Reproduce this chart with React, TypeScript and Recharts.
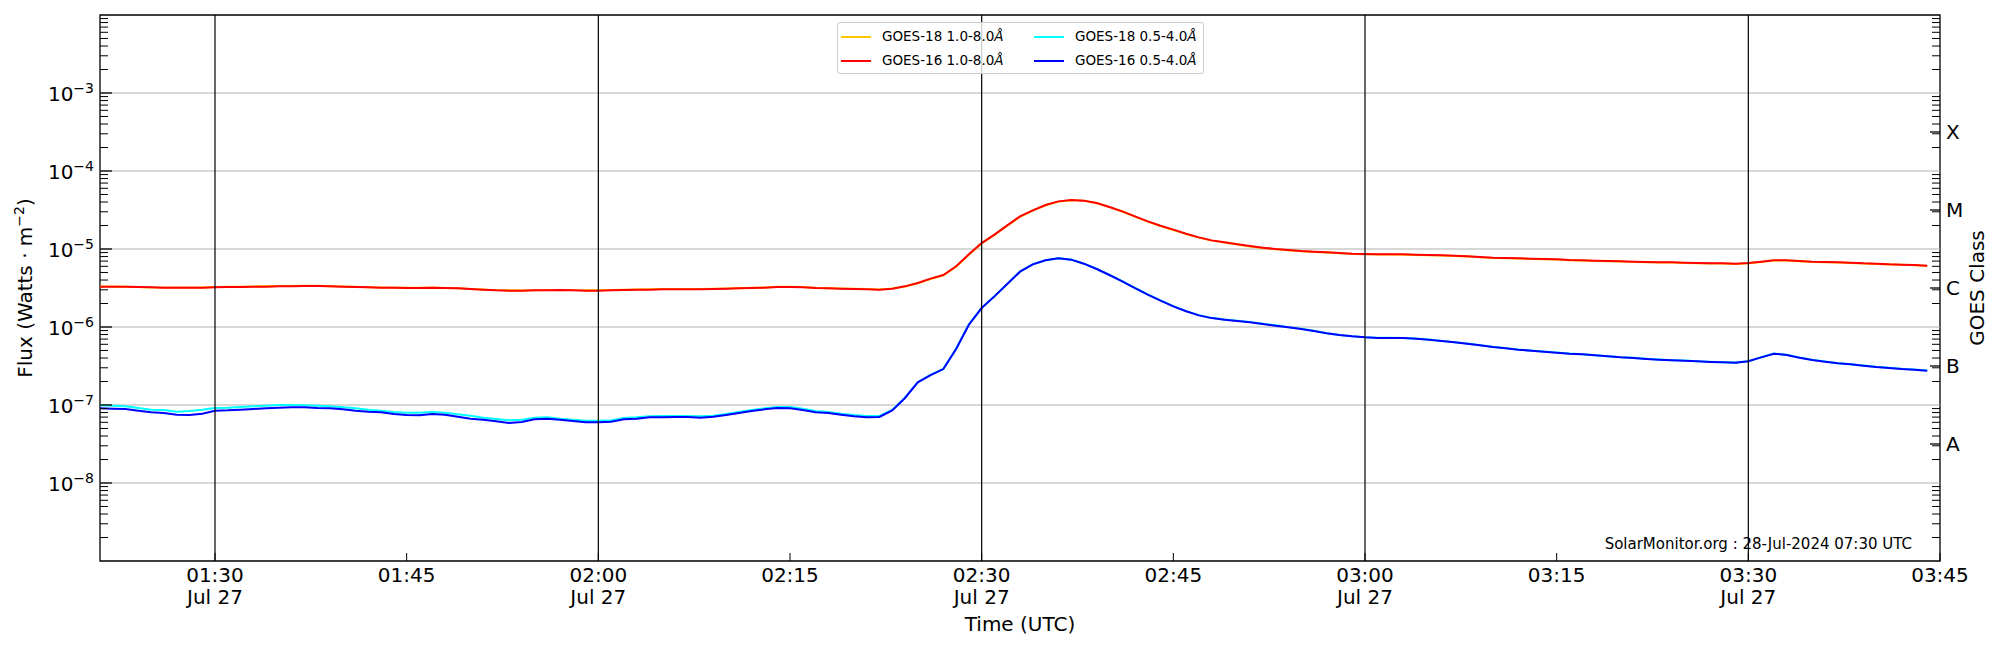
import React from 'react';
import { LineChart, Line, XAxis, YAxis, ReferenceLine, ReferenceArea, Legend } from 'recharts';

// 1-minute GOES XRS flux, starting 01:21 UTC on 27 Jul 2024 (minutes after midnight)
const START_MINUTE = 81;

const goes16Long = [
  3.29e-6, 3.29e-6, 3.29e-6, 3.26e-6, 3.23e-6, 3.19e-6, 3.19e-6, 3.19e-6, 3.19e-6, 3.23e-6,
  3.26e-6, 3.26e-6, 3.29e-6, 3.29e-6, 3.32e-6, 3.32e-6, 3.36e-6, 3.36e-6, 3.32e-6, 3.29e-6,
  3.26e-6, 3.23e-6, 3.19e-6, 3.19e-6, 3.16e-6, 3.16e-6, 3.19e-6, 3.16e-6, 3.13e-6, 3.07e-6,
  3.01e-6, 2.95e-6, 2.92e-6, 2.92e-6, 2.95e-6, 2.95e-6, 2.98e-6, 2.95e-6, 2.92e-6, 2.92e-6,
  2.95e-6, 2.98e-6, 3.01e-6, 3.01e-6, 3.04e-6, 3.04e-6, 3.04e-6, 3.04e-6, 3.07e-6, 3.10e-6,
  3.13e-6, 3.16e-6, 3.19e-6, 3.26e-6, 3.26e-6, 3.23e-6, 3.16e-6, 3.13e-6, 3.10e-6, 3.07e-6,
  3.04e-6, 3.01e-6, 3.10e-6, 3.32e-6, 3.66e-6, 4.17e-6, 4.64e-6, 6.00e-6, 8.54e-6, 1.19e-5,
  1.53e-5, 2.01e-5, 2.62e-5, 3.13e-5, 3.67e-5, 4.08e-5, 4.25e-5, 4.17e-5, 3.89e-5, 3.46e-5,
  3.04e-5, 2.62e-5, 2.26e-5, 1.99e-5, 1.77e-5, 1.57e-5, 1.41e-5, 1.29e-5, 1.22e-5, 1.15e-5,
  1.09e-5, 1.04e-5, 1.00e-5, 9.71e-6, 9.43e-6, 9.24e-6, 9.06e-6, 8.89e-6, 8.71e-6, 8.63e-6,
  8.54e-6, 8.54e-6, 8.54e-6, 8.46e-6, 8.38e-6, 8.29e-6, 8.21e-6, 8.05e-6, 7.89e-6, 7.74e-6,
  7.67e-6, 7.59e-6, 7.52e-6, 7.44e-6, 7.37e-6, 7.23e-6, 7.16e-6, 7.09e-6, 7.02e-6, 6.95e-6,
  6.88e-6, 6.81e-6, 6.75e-6, 6.75e-6, 6.68e-6, 6.61e-6, 6.55e-6, 6.55e-6, 6.48e-6, 6.61e-6,
  6.88e-6, 7.16e-6, 7.16e-6, 7.02e-6, 6.88e-6, 6.81e-6, 6.75e-6, 6.68e-6, 6.55e-6, 6.48e-6,
  6.36e-6, 6.30e-6, 6.24e-6, 6.11e-6,
];

const goes18Long = [
  3.31e-6, 3.30e-6, 3.28e-6, 3.25e-6, 3.22e-6, 3.20e-6, 3.20e-6, 3.20e-6, 3.21e-6, 3.25e-6,
  3.28e-6, 3.29e-6, 3.31e-6, 3.32e-6, 3.35e-6, 3.36e-6, 3.39e-6, 3.38e-6, 3.34e-6, 3.30e-6,
  3.27e-6, 3.24e-6, 3.20e-6, 3.20e-6, 3.18e-6, 3.18e-6, 3.20e-6, 3.17e-6, 3.13e-6, 3.08e-6,
  3.02e-6, 2.97e-6, 2.95e-6, 2.94e-6, 2.96e-6, 2.97e-6, 2.99e-6, 2.97e-6, 2.95e-6, 2.95e-6,
  2.98e-6, 3.01e-6, 3.03e-6, 3.04e-6, 3.06e-6, 3.06e-6, 3.06e-6, 3.06e-6, 3.09e-6, 3.12e-6,
  3.15e-6, 3.18e-6, 3.21e-6, 3.27e-6, 3.28e-6, 3.25e-6, 3.18e-6, 3.15e-6, 3.12e-6, 3.09e-6,
  3.06e-6, 3.03e-6, 3.11e-6, 3.31e-6, 3.63e-6, 4.12e-6, 4.60e-6, 5.92e-6, 8.45e-6, 1.18e-5,
  1.51e-5, 1.99e-5, 2.59e-5, 3.10e-5, 3.64e-5, 4.05e-5, 4.22e-5, 4.15e-5, 3.87e-5, 3.44e-5,
  3.02e-5, 2.60e-5, 2.24e-5, 1.97e-5, 1.75e-5, 1.55e-5, 1.40e-5, 1.28e-5, 1.21e-5, 1.14e-5,
  1.08e-5, 1.03e-5, 9.92e-6, 9.63e-6, 9.36e-6, 9.16e-6, 8.99e-6, 8.82e-6, 8.65e-6, 8.56e-6,
  8.48e-6, 8.48e-6, 8.47e-6, 8.40e-6, 8.32e-6, 8.23e-6, 8.15e-6, 7.99e-6, 7.83e-6, 7.68e-6,
  7.61e-6, 7.53e-6, 7.46e-6, 7.38e-6, 7.31e-6, 7.18e-6, 7.11e-6, 7.04e-6, 6.97e-6, 6.90e-6,
  6.83e-6, 6.76e-6, 6.70e-6, 6.70e-6, 6.63e-6, 6.56e-6, 6.50e-6, 6.50e-6, 6.43e-6, 6.56e-6,
  6.83e-6, 7.11e-6, 7.11e-6, 6.97e-6, 6.83e-6, 6.76e-6, 6.70e-6, 6.63e-6, 6.50e-6, 6.43e-6,
  6.32e-6, 6.26e-6, 6.20e-6, 6.07e-6,
];

const goes16Short = [
  9.06e-8, 8.97e-8, 8.89e-8, 8.46e-8, 8.05e-8, 7.89e-8, 7.52e-8, 7.44e-8, 7.74e-8, 8.46e-8,
  8.54e-8, 8.71e-8, 8.89e-8, 9.06e-8, 9.24e-8, 9.33e-8, 9.33e-8, 9.15e-8, 9.06e-8, 8.80e-8,
  8.46e-8, 8.21e-8, 8.05e-8, 7.67e-8, 7.44e-8, 7.37e-8, 7.67e-8, 7.52e-8, 7.09e-8, 6.68e-8,
  6.48e-8, 6.17e-8, 5.88e-8, 6.05e-8, 6.55e-8, 6.68e-8, 6.48e-8, 6.24e-8, 5.99e-8, 5.99e-8,
  6.11e-8, 6.55e-8, 6.68e-8, 6.95e-8, 6.95e-8, 7.02e-8, 7.02e-8, 6.88e-8, 7.09e-8, 7.44e-8,
  7.89e-8, 8.38e-8, 8.80e-8, 9.15e-8, 9.06e-8, 8.63e-8, 8.05e-8, 7.89e-8, 7.52e-8, 7.16e-8,
  6.95e-8, 7.02e-8, 8.54e-8, 1.23e-7, 1.95e-7, 2.42e-7, 2.89e-7, 5.22e-7, 1.07e-6, 1.75e-6,
  2.47e-6, 3.56e-6, 5.12e-6, 6.36e-6, 7.16e-6, 7.59e-6, 7.30e-6, 6.48e-6, 5.54e-6, 4.64e-6,
  3.85e-6, 3.16e-6, 2.60e-6, 2.18e-6, 1.84e-6, 1.59e-6, 1.41e-6, 1.30e-6, 1.24e-6, 1.19e-6,
  1.15e-6, 1.09e-6, 1.04e-6, 9.90e-7, 9.43e-7, 8.89e-7, 8.30e-7, 7.89e-7, 7.59e-7, 7.37e-7,
  7.23e-7, 7.23e-7, 7.23e-7, 7.09e-7, 6.88e-7, 6.61e-7, 6.36e-7, 6.11e-7, 5.82e-7, 5.54e-7,
  5.33e-7, 5.12e-7, 4.97e-7, 4.83e-7, 4.69e-7, 4.55e-7, 4.46e-7, 4.33e-7, 4.21e-7, 4.08e-7,
  4.00e-7, 3.89e-7, 3.81e-7, 3.74e-7, 3.70e-7, 3.63e-7, 3.56e-7, 3.52e-7, 3.49e-7, 3.63e-7,
  4.08e-7, 4.55e-7, 4.38e-7, 4.04e-7, 3.78e-7, 3.59e-7, 3.42e-7, 3.32e-7, 3.19e-7, 3.07e-7,
  2.98e-7, 2.89e-7, 2.84e-7, 2.75e-7,
];

const goes18Short = [
  9.90e-8, 9.80e-8, 9.61e-8, 9.15e-8, 8.71e-8, 8.63e-8, 8.21e-8, 8.38e-8, 8.71e-8, 9.15e-8,
  9.24e-8, 9.43e-8, 9.61e-8, 9.80e-8, 1.00e-7, 1.00e-7, 9.90e-8, 9.80e-8, 9.61e-8, 9.33e-8,
  9.06e-8, 8.71e-8, 8.46e-8, 8.13e-8, 7.97e-8, 7.97e-8, 8.13e-8, 7.97e-8, 7.59e-8, 7.30e-8,
  6.88e-8, 6.61e-8, 6.36e-8, 6.48e-8, 6.88e-8, 6.95e-8, 6.68e-8, 6.48e-8, 6.30e-8, 6.30e-8,
  6.36e-8, 6.81e-8, 6.95e-8, 7.16e-8, 7.23e-8, 7.23e-8, 7.23e-8, 7.16e-8, 7.30e-8, 7.67e-8,
  8.13e-8, 8.63e-8, 9.06e-8, 9.43e-8, 9.43e-8, 8.97e-8, 8.38e-8, 8.13e-8, 7.74e-8, 7.44e-8,
  7.23e-8, 7.23e-8, 8.63e-8, 1.24e-7, 1.96e-7, 2.43e-7, 2.90e-7, 5.25e-7, 1.08e-6, 1.76e-6,
  2.48e-6, 3.57e-6, 5.14e-6, 6.38e-6, 7.18e-6, 7.61e-6, 7.32e-6, 6.50e-6, 5.56e-6, 4.66e-6,
  3.86e-6, 3.17e-6, 2.61e-6, 2.19e-6, 1.85e-6, 1.60e-6, 1.42e-6, 1.31e-6, 1.25e-6, 1.20e-6,
  1.16e-6, 1.10e-6, 1.05e-6, 9.95e-7, 9.47e-7, 8.93e-7, 8.34e-7, 7.92e-7, 7.62e-7, 7.40e-7,
  7.26e-7, 7.26e-7, 7.25e-7, 7.12e-7, 6.91e-7, 6.64e-7, 6.39e-7, 6.14e-7, 5.85e-7, 5.57e-7,
  5.36e-7, 5.14e-7, 4.99e-7, 4.85e-7, 4.71e-7, 4.57e-7, 4.48e-7, 4.35e-7, 4.23e-7, 4.10e-7,
  4.02e-7, 3.91e-7, 3.83e-7, 3.76e-7, 3.72e-7, 3.65e-7, 3.58e-7, 3.54e-7, 3.51e-7, 3.65e-7,
  4.10e-7, 4.57e-7, 4.40e-7, 4.06e-7, 3.80e-7, 3.61e-7, 3.44e-7, 3.34e-7, 3.21e-7, 3.09e-7,
  3.00e-7, 2.91e-7, 2.86e-7, 2.77e-7,
];

// axes
const X_TICKS = [90, 105, 120, 135, 150, 165, 180, 195, 210, 225];
const X_TICK_LABELS = ['01:30', '01:45', '02:00', '02:15', '02:30', '02:45', '03:00', '03:15', '03:30', '03:45'];
const X_TICK_DATES = ['Jul 27', '', 'Jul 27', '', 'Jul 27', '', 'Jul 27', '', 'Jul 27', ''];
const HALF_HOURS = [90, 120, 150, 180, 210];

const Y_MAJOR = [1e-8, 1e-7, 1e-6, 1e-5, 1e-4, 1e-3];
const Y_EXPONENTS = ['−8', '−7', '−6', '−5', '−4', '−3'];
const CLASS_TICKS = [3.162e-8, 3.162e-7, 3.162e-6, 3.162e-5, 3.162e-4];
const CLASS_LABELS = ['A', 'B', 'C', 'M', 'X'];

const Y_MINOR: number[] = [];
for (let e = -9; e <= -3; e++) {
  for (let m = 2; m <= 9; m++) Y_MINOR.push(m * Math.pow(10, e));
}

const SERIES = [
  { key: 'g18l', name: 'GOES-18 1.0-8.0', color: '#ffc400', values: goes18Long },
  { key: 'g16l', name: 'GOES-16 1.0-8.0', color: '#ff0000', values: goes16Long },
  { key: 'g18s', name: 'GOES-18 0.5-4.0', color: '#00ffff', values: goes18Short },
  { key: 'g16s', name: 'GOES-16 0.5-4.0', color: '#0000ff', values: goes16Short },
];

const data = goes16Long.map((_, i) => {
  const row: Record<string, number> = { t: START_MINUTE + i };
  SERIES.forEach(s => { row[s.key] = s.values[i]; });
  return row;
});

const FONT = '"DejaVu Sans", sans-serif';

const LeftTick = ({ x, y, payload }: any) => {
  const i = Y_MAJOR.indexOf(payload.value);
  if (i < 0) return <line x1={x} x2={x + 8} y1={y} y2={y} stroke="#000" strokeWidth={1} />;
  return (
    <g>
      <line x1={x} x2={x + 12} y1={y} y2={y} stroke="#000" strokeWidth={1.3} />
      <text x={x - 6} y={y + 8} textAnchor="end" fontSize={20} fontFamily={FONT} fill="#000">
        10<tspan dy={-8.5} fontSize={14}>{Y_EXPONENTS[i]}</tspan>
      </text>
    </g>
  );
};

const RightTick = ({ x, y, payload }: any) => {
  const i = CLASS_TICKS.indexOf(payload.value);
  if (i < 0) return <line x1={x} x2={x - 8} y1={y} y2={y} stroke="#000" strokeWidth={1} />;
  return (
    <g>
      <line x1={x} x2={x - 10} y1={y} y2={y} stroke="#000" strokeWidth={1.3} />
      <text x={x + 6} y={y + 7} textAnchor="start" fontSize={20} fontFamily={FONT} fill="#000">
        {CLASS_LABELS[i]}
      </text>
    </g>
  );
};

const TimeTick = ({ x, y, payload }: any) => {
  const i = X_TICKS.indexOf(payload.value);
  return (
    <g>
      <line x1={x} x2={x} y1={y} y2={y - 8} stroke="#000" strokeWidth={1} />
      <text x={x} y={y + 21} textAnchor="middle" fontSize={20} fontFamily={FONT} fill="#000">
        {X_TICK_LABELS[i]}
      </text>
      {X_TICK_DATES[i] && (
        <text x={x} y={y + 43} textAnchor="middle" fontSize={20} fontFamily={FONT} fill="#000">
          {X_TICK_DATES[i]}
        </text>
      )}
    </g>
  );
};

const FluxLabel = ({ viewBox }: any) => {
  const cx = viewBox.x + 32;
  const cy = viewBox.y + viewBox.height / 2;
  return (
    <text x={cx} y={cy} transform={`rotate(-90 ${cx} ${cy})`} textAnchor="middle" fontSize={20} fontFamily={FONT} fill="#000">
      Flux (Watts · m<tspan dy={-8} fontSize={14}>−2</tspan><tspan dy={8}>)</tspan>
    </text>
  );
};

const ClassLabel = ({ viewBox }: any) => {
  const cx = viewBox.x + 44;
  const cy = viewBox.y + viewBox.height / 2;
  return (
    <text x={cx} y={cy} transform={`rotate(-90 ${cx} ${cy})`} textAnchor="middle" fontSize={20} fontFamily={FONT} fill="#000">
      GOES Class
    </text>
  );
};

const TimeLabel = ({ viewBox }: any) => (
  <text x={viewBox.x + viewBox.width / 2} y={viewBox.y + 70} textAnchor="middle" fontSize={20} fontFamily={FONT} fill="#000">
    Time (UTC)
  </text>
);

const Watermark = ({ viewBox }: any) => (
  <text x={viewBox.x + viewBox.width - 28} y={viewBox.y + viewBox.height - 12} textAnchor="end" fontSize={15} fontFamily={FONT} fill="#000">
    SolarMonitor.org : 28-Jul-2024 07:30 UTC
  </text>
);

const renderLegend = () => (
  <div
    style={{
      position: 'relative',
      width: 367,
      height: 52,
      boxSizing: 'border-box',
      border: '1px solid #cccccc',
      borderRadius: 3,
      background: 'rgba(255,255,255,0.8)',
      fontFamily: FONT,
      fontSize: 13.5,
      color: '#000',
    }}
  >
    {SERIES.map((s, i) => {
      const left = i < 2 ? 3 : 196;
      const top = i % 2 === 0 ? 14 : 38;
      return (
        <React.Fragment key={s.key}>
          <div style={{ position: 'absolute', left, top: top - 1, width: 30, height: 1.5, background: s.color }} />
          <div style={{ position: 'absolute', left: left + 41, top: top - 9, lineHeight: '17px', whiteSpace: 'nowrap' }}>
            {s.name}<i>Å</i>
          </div>
        </React.Fragment>
      );
    })}
  </div>
);

export default function App() {
  return (
    <div style={{ position: 'absolute', left: 0, top: 0, width: 2000, height: 650, background: '#fff' }}>
      <LineChart width={2000} height={650} data={data} margin={{ top: 15, right: 0, bottom: 0, left: 0 }}>
        <XAxis
          dataKey="t"
          type="number"
          domain={[81, 225]}
          allowDataOverflow
          ticks={X_TICKS}
          interval={0}
          tick={<TimeTick />}
          tickSize={0}
          tickMargin={0}
          axisLine={false}
          height={89}
          label={<TimeLabel />}
        />
        <YAxis
          yAxisId="left"
          scale="log"
          domain={[1e-9, 1e-2]}
          allowDataOverflow
          ticks={[...Y_MINOR, ...Y_MAJOR]}
          interval={0}
          tick={<LeftTick />}
          tickSize={0}
          tickMargin={0}
          axisLine={false}
          width={100}
          label={<FluxLabel />}
        />
        <YAxis
          yAxisId="right"
          orientation="right"
          scale="log"
          domain={[1e-9, 1e-2]}
          allowDataOverflow
          ticks={[...Y_MINOR, ...CLASS_TICKS]}
          interval={0}
          tick={<RightTick />}
          tickSize={0}
          tickMargin={0}
          axisLine={false}
          width={60}
          label={<ClassLabel />}
        />
        {Y_MAJOR.map(v => (
          <ReferenceLine key={v} yAxisId="left" y={v} stroke="#b0b0b0" strokeWidth={1.2} />
        ))}
        {SERIES.map(s => (
          <Line
            key={s.key}
            yAxisId="left"
            dataKey={s.key}
            name={s.name}
            type="linear"
            stroke={s.color}
            strokeWidth={2}
            dot={false}
            activeDot={false}
            isAnimationActive={false}
          />
        ))}
        {HALF_HOURS.map(t => (
          <ReferenceLine key={t} yAxisId="left" x={t} stroke="#000" strokeWidth={1.2} />
        ))}
        <ReferenceArea
          yAxisId="left"
          x1={81}
          x2={225}
          y1={1e-9}
          y2={1e-2}
          fill="none"
          fillOpacity={0}
          stroke="#000"
          strokeWidth={1.3}
          label={<Watermark />}
        />
        <Legend
          layout="horizontal"
          verticalAlign="middle"
          align="center"
          content={renderLegend}
          wrapperStyle={{ position: 'absolute', left: 837, top: 22, width: 367, height: 52 }}
        />
      </LineChart>
    </div>
  );
}
